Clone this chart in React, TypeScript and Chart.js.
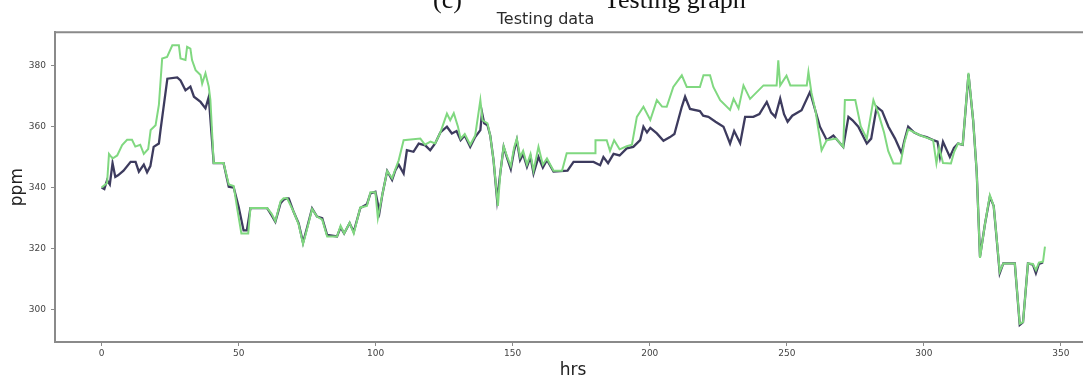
import React, { useEffect, useRef } from "react";
import { Chart, registerables } from "chart.js";

Chart.register(...registerables);

// Predicted (dark) series: hours and ppm
const predHrs = [0,1,2,3,4,5,6,8,10.6,12.4,13.6,15.4,16.6,17.8,19,20.9,21.5,24,27.6,28.8,30.6,32.4,33.7,36.1,37.9,39.1,40.9,44.5,46.4,48.2,50,51.8,53,54.3,60.4,62,63.4,65.3,66.4,67.7,68.3,70.1,71.9,73.5,75,76.8,78.6,80.5,82.3,85.9,87.2,88.5,90.5,92,94.4,96.8,98.1,99.9,101.4,102.5,104.2,106,107.2,108.4,110.2,111.4,113.8,115.7,118.1,119.9,121.7,123.6,126,127.8,129.5,131,132.5,134.5,136.3,138.2,138.8,139.6,140.8,141.8,143,144.3,145.5,146.7,148,149.3,150.5,151.5,152.7,153.8,155.2,156.5,157.6,159.4,161,162.5,164.9,170,172.2,179.5,181.9,183.1,184.8,186.8,189,191.6,194,196.5,197.7,199,200.2,202.6,205,207.4,209,211.7,212.9,214.7,218.3,219.5,221.4,224,226.9,229.3,230.8,233,234.8,237.8,240,242.7,244.3,245.8,247.6,249,250.3,252,255.4,258.5,260,262.1,264.6,267,270.6,272.5,274,276.1,279.2,280.8,282.8,284.8,287.1,289.5,291.9,292.8,294.3,296.5,298.6,301,303.4,305,305.9,307,308.5,309.5,311,312.5,314.2,316.3,318,319.3,320.5,322.3,324.1,325.5,327.7,329,333.2,335,336.2,338,339.8,340.9,342,343.5];
const predPpm = [340,339.5,342.4,341,348,343.5,344,345.5,348.4,348.4,345.2,347.5,345,347,353.3,354.4,358.8,375.6,376,375,371.8,373,369.7,368,365.9,369.6,348,348,340.3,340,333.7,326,326,333.3,333.3,331,328.8,334.9,336,336.5,336.4,332,328.3,322,327,333.2,330.5,330,324.5,324,327,325,328.4,325.5,333.3,334.5,338.1,338.6,332,338,345.4,342.5,345.7,347.5,344.6,352.2,351.7,354.4,353.8,352.2,354.4,358,359.9,357.7,358.5,355.5,357,353.3,356.5,358.8,364.5,361,360.4,357,349,336,345,353.3,349.5,346,352,355.5,349,351,346.8,350,344.6,350,346.5,349,345.2,345.5,348.4,348.4,347.3,350,348,351,350.5,352.8,353.3,355.5,359.9,358,359.5,357.7,355.3,356.5,357.5,366.4,369.7,365.7,365,363.5,363.1,361.5,359.9,354.4,358.5,354.5,363.1,363.1,364,368,364.5,363.1,369.1,364,361.5,363.5,365.3,371.3,366.5,359.9,355.5,357,353.3,363.1,362,359.9,354.4,356,366.4,365,359.9,356,351.2,355,359.9,358,357.1,356.5,355.5,355,350,355,352,350,353,354.4,354,377,362,345,317.4,328,337,334,312,315.2,315.2,295.1,296,315.2,314.8,312,315,315.5];

// Actual (green) series: hours and ppm
const actHrs = [0,2,2.7,4,5.7,7.5,9.3,11.1,12.3,14.1,15.4,17,17.9,19.7,20.9,22.1,23.9,25.8,28.2,28.8,30.6,31.2,32.4,33,34.3,36.1,36.7,37.9,39.1,39.7,40.9,44.5,46.4,48.2,49.5,51,53.5,54.3,60.4,62,63.4,65.3,66.4,67.7,70.1,71.9,73.5,75,76.8,78.6,80.5,82.3,85.9,87.2,88.5,90.5,92,94.4,96.8,98.1,99.9,100.8,102.5,104.2,106,107.2,108.4,110.2,116.3,118,120,121.7,123.6,126,127.2,128.5,130,131,132.5,134.5,136.3,138.2,139,140.8,141.8,143,144.6,145.5,146.7,148,149.3,150.5,151.5,152.7,153.8,155.2,156.5,157.6,159.4,161,162.5,164.9,168,169.7,180.1,180.2,184.3,185.5,187,189,191.6,193.5,195.3,197.7,200.2,202.6,204.5,206.2,208.6,211.7,213.5,218.3,219.6,222,223.2,225.7,229.3,230.6,232.4,234.2,236.6,241.5,246.3,246.9,247.6,249.9,251.3,257.3,257.9,259,260.5,262.7,264.6,268,270.6,271.2,275,277,279.2,281.6,283.5,285.5,287,288.9,291.5,293,294.3,298.6,303.4,304.6,305.6,307,309.9,311,312.5,314.2,316.3,318,319.3,320.5,322.3,324.1,325.5,327.7,329,333.2,335,336.2,338,339.8,340.9,342,343.5,344.2];
const actPpm = [340,341.5,351,349.5,350.5,353.9,355.6,355.6,353.4,354,351,352.6,358.8,360.4,367,382.2,382.7,386.5,386.5,382.2,381.7,386,385.4,381.7,378.4,376.8,374,377.4,373,368.6,348,348,341,340.5,333,325,325,333.3,333.3,331.5,329,335.5,336.5,336.5,332,328,321.5,326.5,333,330.5,329.5,324,324,327.5,325,328.5,325,333.5,334,338.5,338.5,330,338,345.4,343,346,348.9,355.5,356,354,355,354.4,358,364.2,362,364.3,360,356,357.5,354,357,368.6,362,361,357,349,334,345,353.5,350,347,353,356,350,352,347.5,351,345.5,353.3,347.5,349.5,345.5,345.5,351.2,351.2,355.5,355.5,352,355.5,352.5,353.5,354,363.1,366.4,362.1,368.6,366.5,366.4,372.9,376.7,372.9,372.9,376.7,376.7,372.9,368.6,365.4,369,365.9,373.4,369,373.4,373.4,381.6,373.4,376.6,373.4,373.4,377.8,371,365,352.2,355.5,356,353.3,368.6,368.6,360,356,368.6,364,358,352,347.9,347.9,355,359,357.1,355.5,347.9,353,348,347.9,351.5,354.4,354,377.5,362,345,317,328,337.5,334,312.5,315.2,315.2,295.5,296,315.2,315,313,315.5,315.8,320.7];

const yTicks = [300, 320, 340, 360, 380];
const xTicks = [0, 50, 100, 150, 200, 250, 300, 350];
const captionLabel = "(c)";
const captionText = "Testing graph";

const topSpine = {
  id: "topSpine",
  afterDraw(chart: any) {
    const { ctx, chartArea } = chart;
    ctx.save();
    ctx.strokeStyle = "#8a8a8a";
    ctx.lineWidth = 2;
    ctx.beginPath();
    ctx.moveTo(chartArea.left - 1, chartArea.top);
    ctx.lineTo(chartArea.right, chartArea.top);
    ctx.stroke();
    ctx.restore();
  },
};

const captionStyle: React.CSSProperties = {
  position: "absolute",
  top: -13,
  fontFamily: "'Liberation Serif', 'Times New Roman', serif",
  fontSize: 26,
  lineHeight: "26px",
  color: "#111",
  whiteSpace: "nowrap",
};

export default function App() {
  const ref = useRef<HTMLCanvasElement | null>(null);
  useEffect(() => {
    document.body.style.margin = "0";
    document.body.style.overflow = "hidden";
    const canvas = ref.current;
    if (!canvas) return;
    const chart = new Chart(canvas, {
      type: "line",
      data: {
        datasets: [
          {
            label: "Actual",
            data: actHrs.map((h, i) => ({ x: h, y: actPpm[i] })),
            borderColor: "#80d880",
            borderWidth: 2,
            pointRadius: 0,
            tension: 0,
          },
          {
            label: "Predicted",
            data: predHrs.map((h, i) => ({ x: h, y: predPpm[i] })),
            borderColor: "rgba(34,32,72,0.88)",
            borderWidth: 2.3,
            pointRadius: 0,
            tension: 0,
          },
        ],
      },
      options: {
        animation: false,
        responsive: false,
        layout: { padding: { left: 0, right: 9, top: 0, bottom: 0 } },
        plugins: {
          legend: { display: false },
          tooltip: { enabled: false },
          title: {
            display: true,
            text: "Testing data",
            color: "#2a2a2a",
            font: { family: "DejaVu Sans", size: 16, weight: "normal" },
            padding: { top: 10, bottom: 3 },
          },
        },
        scales: {
          x: {
            type: "linear",
            min: -17,
            max: 361,
            afterBuildTicks: (s: any) => {
              s.ticks = xTicks.map((v) => ({ value: v }));
            },
            afterFit: (s: any) => {
              s.height = 43;
            },
            grid: { drawOnChartArea: false, color: "#8a8a8a", tickLength: 4 },
            border: { display: true, color: "#8a8a8a", width: 2 },
            ticks: {
              color: "#444",
              font: { family: "DejaVu Sans", size: 9 },
              padding: 2,
              maxRotation: 0,
            },
            title: {
              display: true,
              text: "hrs",
              color: "#222",
              font: { family: "DejaVu Sans", size: 17 },
              padding: { top: 0, bottom: 4 },
            },
          },
          y: {
            type: "linear",
            min: 289.5,
            max: 390.8,
            afterBuildTicks: (s: any) => {
              s.ticks = yTicks.map((v) => ({ value: v }));
            },
            afterFit: (s: any) => {
              s.width = 55;
            },
            grid: { drawOnChartArea: false, color: "#8a8a8a", tickLength: 4 },
            border: { display: true, color: "#8a8a8a", width: 2 },
            ticks: {
              color: "#444",
              font: { family: "DejaVu Sans", size: 9 },
              padding: 5,
            },
            title: {
              display: true,
              text: "ppm",
              color: "#222",
              font: { family: "DejaVu Sans", size: 17 },
              padding: { top: 7, bottom: 0 },
            },
          },
        },
      },
      plugins: [topSpine],
    });
    return () => chart.destroy();
  }, []);
  return (
    <div style={{ position: "fixed", left: 0, top: 0, width: 1100, height: 385, background: "#fff", overflow: "hidden" }}>
      <canvas ref={ref} width={1100} height={385} />
      <div style={{ ...captionStyle, left: 433 }}>{captionLabel}</div>
      <div style={{ ...captionStyle, left: 604 }}>{captionText}</div>
    </div>
  );
}
